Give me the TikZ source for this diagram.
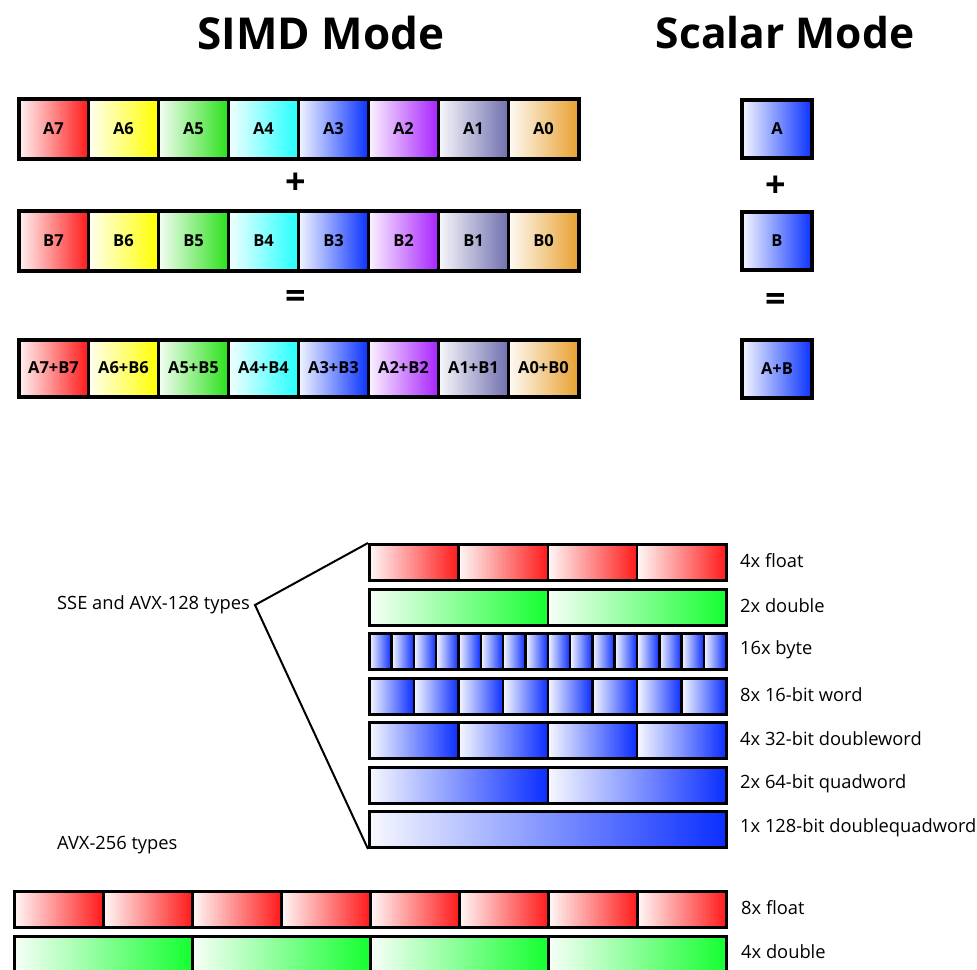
\documentclass[tikz,border=0pt]{standalone}
\usepackage{fontspec}
\setmainfont{Open Sans}
\usetikzlibrary{positioning}

\definecolor{cRed}{HTML}{FF1A1A}
\definecolor{cYellow}{HTML}{FFFF00}
\definecolor{cGreen}{HTML}{2BE01A}
\definecolor{cCyan}{HTML}{22FFFF}
\definecolor{cBlue}{HTML}{0A33FF}
\definecolor{cPurple}{HTML}{A822FF}
\definecolor{cSlate}{HTML}{7070B0}
\definecolor{cOrange}{HTML}{E8A030}
\definecolor{lRed}{HTML}{FF1A1A}
\definecolor{lGreen}{HTML}{14FF30}
\definecolor{lBlue}{HTML}{0A2EFF}

\tikzset{
  simdcell/.style={draw=black, line width=3pt, inner sep=0pt, anchor=north west,
    minimum width=70pt, minimum height=60pt,
    font=\fontsize{16.5}{18}\selectfont\bfseries},
  simdbox/.style={draw=black, line width=4pt, inner sep=0pt, anchor=north west,
    minimum width=560pt, minimum height=60pt},
  scalarbox/.style={draw=black, line width=4pt, inner sep=0pt, anchor=north west,
    minimum width=70pt, minimum height=58pt, left color=cBlue!4!white, right color=cBlue,
    font=\fontsize{16.5}{18}\selectfont\bfseries},
  opsign/.style={font=\fontsize{36}{40}\selectfont\bfseries, inner sep=0pt},
  title/.style={font=\fontsize{44}{50}\selectfont\bfseries, inner sep=0pt},
  lanecell/.style={draw=black, line width=2.5pt, inner sep=0pt, anchor=north west,
    minimum height=36pt},
  lanebox/.style={draw=black, line width=3pt, inner sep=0pt, anchor=north west,
    minimum height=36pt},
  typelabel/.style={font=\fontsize{18.3}{20}\selectfont, inner sep=0pt, anchor=west},
}

% #1 name, #2 left x, #3 top y, #4 total width, #5 lane count, #6 colour
\newcommand\laneRow[6]{%
  \pgfmathsetmacro\lanew{#4/#5}%
  \foreach \k in {1,...,#5} {
    \node[lanecell, minimum width=\lanew pt, left color=#6!3!white, right color=#6]
      (#1-\k) at ({#2+(\k-1)*\lanew}, #3) {};
  }
  \node[lanebox, minimum width=#4 pt] (#1) at (#2,#3) {};
}

\begin{document}
\begin{tikzpicture}[x=1pt, y=-1pt]
  \useasboundingbox (0,0) rectangle (977,969);

  % titles
  \node[title] (simdtitle) at (321,33) {SIMD Mode};
  \node[title, font=\fontsize{42.5}{48}\selectfont\bfseries] (scalartitle) at (785,33) {Scalar Mode};

  % SIMD rows: operands and result
  \foreach \i/\c [count=\n from 0] in {7/cRed,6/cYellow,5/cGreen,4/cCyan,3/cBlue,2/cPurple,1/cSlate,0/cOrange} {
    \node[simdcell, left color=\c!5!white, right color=\c] (a\i) at ({17+70*\n},97) {A\i};
    \node[simdcell, left color=\c!5!white, right color=\c] (b\i) at ({17+70*\n},209) {B\i};
    \node[simdcell, minimum height=57pt, left color=\c!5!white, right color=\c] (s\i) at ({17+70*\n},338) {A\i+B\i};
  }
  \node[simdbox] (rowa) at (17,97) {};
  \node[simdbox] (rowb) at (17,209) {};
  \node[simdbox, minimum height=57pt] (rows) at (17,338) {};
  \node[opsign] (simdplus) at (296,184) {+};
  \node[opsign] (simdeq) at (296,299) {=};

  % scalar operands and result
  \node[scalarbox] (sa) at (740,98) {A};
  \node[opsign] (scalarplus) at (776,187) {+};
  \node[scalarbox] (sb) at (740,210) {B};
  \node[opsign] (scalareq) at (776,302) {=};
  \node[scalarbox] (ss) at (740,338) {A+B};

  % SSE / AVX-128 register layouts
  \laneRow{f4}{368}{543}{357}{4}{lRed}
  \laneRow{d2}{368}{587.5}{357}{2}{lGreen}
  \laneRow{b16}{368}{632}{357}{16}{lBlue}
  \laneRow{w8}{368}{676.5}{357}{8}{lBlue}
  \laneRow{dw4}{368}{721}{357}{4}{lBlue}
  \laneRow{qw2}{368}{765.5}{357}{2}{lBlue}
  \laneRow{dq1}{368}{810}{357}{1}{lBlue}

  \node[typelabel] (lf4) at (740,561) {4x float};
  \node[typelabel] (ld2) at (740,605.5) {2x double};
  \node[typelabel] (lb16) at (740,650) {16x byte};
  \node[typelabel] (lw8) at (740,694.5) {8x 16-bit word};
  \node[typelabel] (ldw4) at (740,739) {4x 32-bit doubleword};
  \node[typelabel] (lqw2) at (740,783.5) {2x 64-bit quadword};
  \node[typelabel] (ldq1) at (740,828) {1x 128-bit doublequadword};

  \node[typelabel] (sse) at (57,605) {SSE and AVX-128 types};
  \coordinate (ssetip) at (255,605);
  \draw[line width=2pt, line join=miter] (f4.north west) -- (ssetip) -- (dq1.south west);

  % AVX-256 register layouts
  \node[typelabel] (avx) at (57,845) {AVX-256 types};
  \laneRow{f8}{13}{890}{712}{8}{lRed}
  \laneRow{d4}{13}{935}{712}{4}{lGreen}
  \node[typelabel] (lf8) at (741,908) {8x float};
  \node[typelabel] (ld4) at (741,952) {4x double};
\end{tikzpicture}
\end{document}
